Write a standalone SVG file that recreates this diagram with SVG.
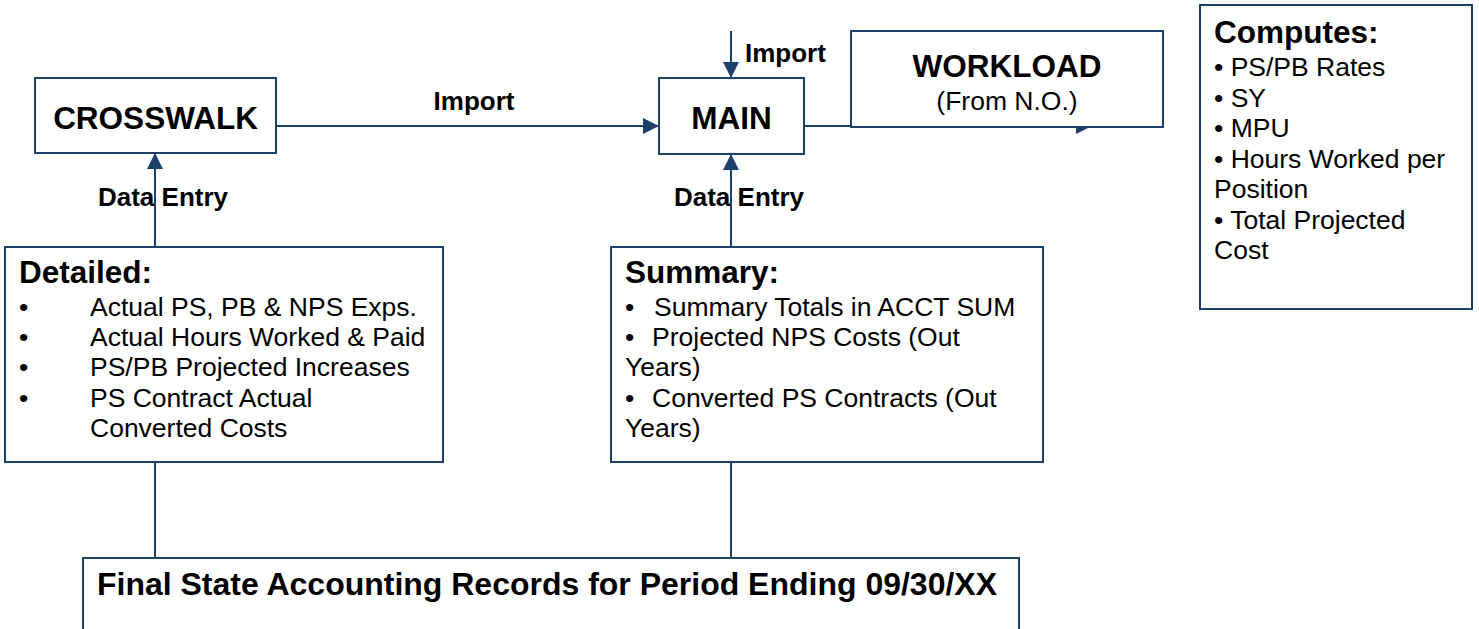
<svg xmlns="http://www.w3.org/2000/svg" width="1479" height="629" viewBox="0 0 1479 629">
<style>
.box{fill:#fff;stroke:#1c3f6b;stroke-width:2}
.ln{fill:none;stroke:#1c3f6b;stroke-width:2}
text{font-family:"Liberation Sans",Arial,sans-serif;fill:#000}
.h{font-weight:bold;font-size:31.5px}
.lb{font-weight:bold;font-size:26px}
.t{font-size:26.5px}
</style>
<defs>
<marker id="ah" markerUnits="userSpaceOnUse" markerWidth="16" markerHeight="16" refX="16" refY="8" orient="auto">
<path d="M0,0 L16,8 L0,16 z" fill="#1c3f6b"/>
</marker>
</defs>
<rect width="1479" height="629" fill="#fff"/>
<g id="connectors">
<line class="ln" x1="276" y1="126" x2="659" y2="126" marker-end="url(#ah)"/>
<line class="ln" x1="731" y1="31" x2="731" y2="78" marker-end="url(#ah)"/>
<line class="ln" x1="804" y1="126" x2="1092" y2="126" marker-end="url(#ah)"/>
<line class="ln" x1="155" y1="247" x2="155" y2="153" marker-end="url(#ah)"/>
<line class="ln" x1="731" y1="247" x2="731" y2="154" marker-end="url(#ah)"/>
<line class="ln" x1="155" y1="462" x2="155" y2="558"/>
<line class="ln" x1="731" y1="462" x2="731" y2="558"/>
<text class="lb" x="474" y="110" text-anchor="middle">Import</text>
<text class="lb" x="745" y="62">Import</text>
<text class="lb" x="163" y="206" text-anchor="middle">Data Entry</text>
<text class="lb" x="739" y="206" text-anchor="middle">Data Entry</text>
</g>
<g id="crosswalk">
<rect class="box" x="35" y="78" width="241" height="75"/>
<text class="h" x="155.5" y="129" text-anchor="middle">CROSSWALK</text>
</g>
<g id="main">
<rect class="box" x="659" y="78" width="145" height="76"/>
<text class="h" x="731.5" y="129" text-anchor="middle">MAIN</text>
</g>
<g id="workload">
<rect class="box" x="851" y="31" width="312" height="96"/>
<text class="h" x="1007" y="77" text-anchor="middle">WORKLOAD</text>
<text class="t" x="1007" y="110" text-anchor="middle">(From N.O.)</text>
</g>
<g id="computes">
<rect class="box" x="1200" y="5" width="272" height="304"/>
<text class="h" x="1214" y="43">Computes:</text>
<text class="t" x="1214" y="76">• PS/PB Rates</text>
<text class="t" x="1214" y="107">• SY</text>
<text class="t" x="1214" y="137">• MPU</text>
<text class="t" x="1214" y="168">• Hours Worked per</text>
<text class="t" x="1214" y="198">Position</text>
<text class="t" x="1214" y="229">• Total Projected</text>
<text class="t" x="1214" y="259">Cost</text>
</g>
<g id="detailed">
<rect class="box" x="5" y="247" width="438" height="215"/>
<text class="h" x="19" y="283">Detailed:</text>
<text class="t" x="19" y="316">•<tspan x="90">Actual PS, PB &amp; NPS Exps.</tspan></text>
<text class="t" x="19" y="346">•<tspan x="90">Actual Hours Worked &amp; Paid</tspan></text>
<text class="t" x="19" y="376">•<tspan x="90">PS/PB Projected Increases</tspan></text>
<text class="t" x="19" y="407">•<tspan x="90">PS Contract Actual</tspan></text>
<text class="t" x="90" y="437">Converted Costs</text>
</g>
<g id="summary">
<rect class="box" x="611" y="247" width="432" height="215"/>
<text class="h" x="625" y="283">Summary:</text>
<text class="t" x="625" y="316">•<tspan x="654">Summary Totals in ACCT SUM</tspan></text>
<text class="t" x="625" y="346">•<tspan x="652">Projected NPS Costs (Out</tspan></text>
<text class="t" x="625" y="376">Years)</text>
<text class="t" x="625" y="407">•<tspan x="652">Converted PS Contracts (Out</tspan></text>
<text class="t" x="625" y="437">Years)</text>
</g>
<g id="final">
<rect class="box" x="83" y="558" width="936" height="80"/>
<text class="h" x="97" y="595" textLength="900" lengthAdjust="spacingAndGlyphs">Final State Accounting Records for Period Ending 09/30/XX</text>
</g>
</svg>
